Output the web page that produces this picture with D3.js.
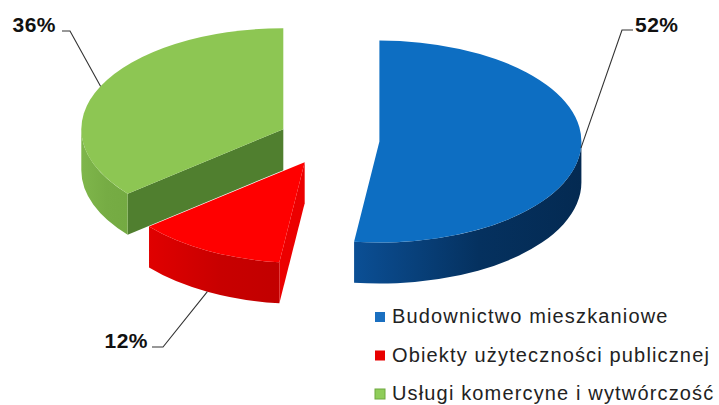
<!DOCTYPE html>
<html>
<head>
<meta charset="utf-8">
<script src="https://cdn.jsdelivr.net/npm/d3@7"></script>
<style>
  html, body { margin: 0; padding: 0; background: #fff; }
  svg { display: block; }
  text { font-family: "Liberation Sans", Arial, sans-serif; }
</style>
</head>
<body>
<svg id="chart" width="719" height="405"></svg>
<script>
// Share of each sector (percent)
const categories = ["Budownictwo mieszkaniowe", "Obiekty użyteczności publicznej", "Usługi komercyne i wytwórczość"];
const shares = [52, 12, 36];
const topColors = ["#0d6ec2", "#ff0000", "#8dc653"];
const wallColorsLight = ["#0b4f95", "#e00000", "#7fb64b"];
const wallColorsDark = ["#042a52", "#c20000", "#74aa42"];
const radialColors = ["#06386e", "#ec0000", "#507f2f"];
const legendColors = ["#1a6fc0", "#e80000", "#8fcd5a"];

const svg = d3.select("#chart");

// 3D pie geometry
const cx = 329, cy = 140, rx = 202, ry = 101, depth = 41, explode = 0.25;

const pie = d3.pie().sort(null).value(d => d).startAngle(0).endAngle(2 * Math.PI);
const arcs = pie(shares).map((a, i) => {
  const mid = (a.startAngle + a.endAngle) / 2;
  return {
    ...a, i, mid,
    ox: cx + explode * rx * Math.sin(mid),
    oy: cy - explode * ry * Math.cos(mid)
  };
});

const pt = (s, ang, dz = 0) => [s.ox + rx * Math.sin(ang), s.oy - ry * Math.cos(ang) + dz];

const defs = svg.append("defs");
arcs.forEach(s => {
  const g = defs.append("linearGradient").attr("id", "wall" + s.i)
    .attr("x1", 0).attr("y1", 0).attr("x2", 1).attr("y2", 0);
  g.append("stop").attr("offset", "0%").attr("stop-color", wallColorsLight[s.i]);
  g.append("stop").attr("offset", "55%").attr("stop-color", d3.interpolateRgb(wallColorsLight[s.i], wallColorsDark[s.i])(0.8));
  g.append("stop").attr("offset", "100%").attr("stop-color", wallColorsDark[s.i]);
});

function radialFace(s, ang) {
  const p = pt(s, ang), pb = pt(s, ang, depth);
  return `M${s.ox},${s.oy}L${p[0]},${p[1]}L${pb[0]},${pb[1]}L${s.ox},${s.oy + depth}Z`;
}
function outerWall(s, a0, a1) {
  const p0 = pt(s, a0), p1 = pt(s, a1), b1 = pt(s, a1, depth), b0 = pt(s, a0, depth);
  const large = (a1 - a0) > Math.PI ? 1 : 0;
  return `M${p0[0]},${p0[1]}A${rx},${ry} 0 ${large} 1 ${p1[0]},${p1[1]}` +
         `L${b1[0]},${b1[1]}A${rx},${ry} 0 ${large} 0 ${b0[0]},${b0[1]}Z`;
}
function topFace(s) {
  const p0 = pt(s, s.startAngle), p1 = pt(s, s.endAngle);
  const large = (s.endAngle - s.startAngle) > Math.PI ? 1 : 0;
  return `M${s.ox},${s.oy}L${p0[0]},${p0[1]}A${rx},${ry} 0 ${large} 1 ${p1[0]},${p1[1]}Z`;
}
// a radial face is visible when its outward normal points toward the viewer
function faceVisible(ang, sign) {
  const n = ang + sign * Math.PI / 2;
  return -Math.cos(n) > 0.02;
}

// paint back slices first: green, red, blue
const order = [2, 1, 0];
const pieG = svg.append("g");
order.forEach(k => {
  const s = arcs[k];
  const g = pieG.append("g");
  if (faceVisible(s.startAngle, -1)) g.append("path").attr("d", radialFace(s, s.startAngle)).attr("fill", radialColors[k]);
  if (faceVisible(s.endAngle, 1)) g.append("path").attr("d", radialFace(s, s.endAngle)).attr("fill", radialColors[k]);
  const w0 = Math.max(s.startAngle, Math.PI / 2), w1 = Math.min(s.endAngle, 3 * Math.PI / 2);
  if (w1 > w0) g.append("path").attr("d", outerWall(s, w0, w1)).attr("fill", `url(#wall${k})`);
  g.append("path").attr("d", topFace(s)).attr("fill", topColors[k]);
});

// percentage labels with leader lines
const labelLayout = [
  { x: 635, y: 32, anchor: "start", elbow: [622, 30], tick: [633, 30], onWall: false },
  { x: 148, y: 348, anchor: "end", elbow: [163, 347], tick: [152, 347], onWall: true },
  { x: 56, y: 32, anchor: "end", elbow: [70, 31], tick: [62, 31], onWall: false }
];
arcs.forEach(s => {
  const L = labelLayout[s.i];
  const a = pt(s, s.mid, L.onWall ? depth : 0);
  svg.append("path")
    .attr("d", `M${a[0]},${a[1]}L${L.elbow[0]},${L.elbow[1]}L${L.tick[0]},${L.tick[1]}`)
    .attr("fill", "none").attr("stroke", "#333").attr("stroke-width", 1.1);
  svg.append("text")
    .attr("x", L.x).attr("y", L.y)
    .attr("text-anchor", L.anchor)
    .attr("font-size", 21).attr("font-weight", "bold")
    .attr("letter-spacing", 0.5)
    .attr("fill", "#111")
    .text(`${s.data}%`);
});

// legend
const legend = svg.append("g").attr("transform", "translate(375,323)");
const rowH = 38.5;
categories.forEach((c, i) => {
  const r = legend.append("g").attr("transform", `translate(0,${i * rowH})`);
  r.append("rect").attr("x", 0).attr("y", -11).attr("width", 10).attr("height", 10)
    .attr("fill", legendColors[i])
    .attr("stroke", i === 2 ? "#6fa83f" : "none").attr("stroke-width", 1);
  r.append("text").attr("x", 17).attr("y", 0)
    .attr("font-size", 20).attr("letter-spacing", 1.15)
    .attr("fill", "#222")
    .text(c);
});
</script>
</body>
</html>
